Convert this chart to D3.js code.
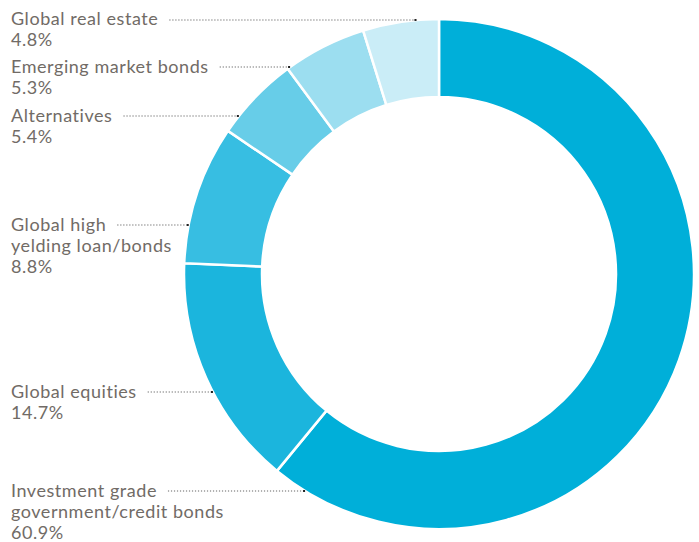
<!DOCTYPE html>
<html>
<head>
<meta charset="utf-8">
<script src="https://cdn.jsdelivr.net/npm/d3@7"></script>
<style>
  html, body { margin: 0; padding: 0; background: #fff; }
  svg text { font-family: Lato, "Noto Sans", sans-serif; }
</style>
</head>
<body>
<svg id="chart" width="699" height="542"></svg>
<script>
// data, clockwise from 12 o'clock
var categories = [
  "Investment grade government/credit bonds",
  "Global equities",
  "Global high yelding loan/bonds",
  "Alternatives",
  "Emerging market bonds",
  "Global real estate"
];
var labelLines = [
  ["Investment grade", "government/credit bonds"],
  ["Global equities"],
  ["Global high", "yelding loan/bonds"],
  ["Alternatives"],
  ["Emerging market bonds"],
  ["Global real estate"]
];
var values = [60.9, 14.7, 8.8, 5.4, 5.3, 4.8];
var colors = ["#00afd9", "#1bb5dd", "#37bee2", "#67cde8", "#9cdef0", "#caedf7"];

// layout
var width = 699, height = 542;
var cx = 439, cy = 274;
var outerR = 255, innerR = 177;
var labelX = 11;
var lineH = 21;
// baseline of first label line for each category
var labelTop = [497, 398, 231, 122, 73, 25];

var svg = d3.select("#chart");

var pie = d3.pie().sort(null).value(d => d.value);
var arc = d3.arc().innerRadius(innerR).outerRadius(outerR);

var data = categories.map((c, i) => ({name: c, value: values[i], lines: labelLines[i], color: colors[i], y: labelTop[i]}));

var g = svg.append("g").attr("transform", "translate(" + cx + "," + cy + ")");

g.selectAll("path")
  .data(pie(data))
  .enter()
  .append("path")
  .attr("d", arc)
  .attr("fill", d => d.data.color)
  .attr("stroke", "#fff")
  .attr("stroke-width", 2.5);

// labels
var labels = svg.append("g");
data.forEach(function(d) {
  var t = labels.append("text")
    .attr("x", labelX)
    .attr("y", d.y)
    .attr("fill", "#716b66")
    .style("font-size", "18px")
    .style("letter-spacing", "0.55px");
  var all = d.lines.concat([d3.format(".1f")(d.value) + "%"]);
  all.forEach(function(line, j) {
    t.append("tspan").attr("x", labelX).attr("dy", j === 0 ? 0 : lineH).text(line);
  });

  // leader line from the end of the first label line to the outer edge
  var first = t.select("tspan").node();
  var x0 = labelX + first.getComputedTextLength() + 11;
  var ly = Math.max(d.y - 6, cy - outerR + 1);
  var dy = ly - cy;
  var x1 = cx - Math.sqrt(Math.max(0, outerR * outerR - dy * dy));
  labels.append("line")
    .attr("x1", x0).attr("x2", x1)
    .attr("y1", ly).attr("y2", ly)
    .attr("stroke", "#666")
    .attr("stroke-width", 1.2)
    .attr("stroke-dasharray", "1.2,1.8");
  labels.append("rect")
    .attr("x", x1 - 2).attr("y", ly - 1)
    .attr("width", 2).attr("height", 2)
    .attr("fill", "#222");
});
</script>
</body>
</html>
